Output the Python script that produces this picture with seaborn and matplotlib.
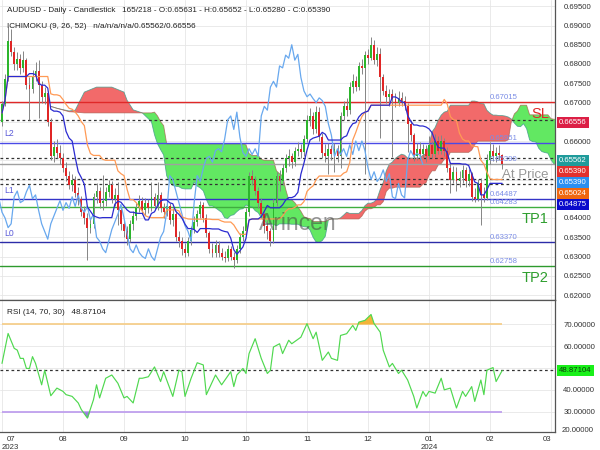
import numpy as np
import pandas as pd
import matplotlib
matplotlib.use("Agg")
import matplotlib.pyplot as plt
import matplotlib.transforms as mtrans
import seaborn as sns

# ---------------- data ----------------
first_open = 0.6650
closes = [0.6695, 0.6760, 0.6860, 0.6830, 0.6800, 0.6812, 0.6790, 0.6810, 0.6745, 0.6735,
          0.6770, 0.6782, 0.6745, 0.6715, 0.6725, 0.6650, 0.6560, 0.6585, 0.6570, 0.6555,
          0.6530, 0.6510, 0.6485, 0.6500, 0.6465, 0.6450, 0.6415, 0.6400, 0.6375, 0.6385,
          0.6455, 0.6470, 0.6440, 0.6445, 0.6468, 0.6485, 0.6450, 0.6460, 0.6420, 0.6385,
          0.6365, 0.6345, 0.6385, 0.6405, 0.6425, 0.6445, 0.6420, 0.6440, 0.6425, 0.6455,
          0.6430, 0.6460, 0.6425, 0.6415, 0.6430, 0.6395, 0.6410, 0.6350, 0.6340, 0.6320,
          0.6310, 0.6340, 0.6370, 0.6390, 0.6410, 0.6435, 0.6400, 0.6360, 0.6320, 0.6310,
          0.6330, 0.6310, 0.6300, 0.6295, 0.6320, 0.6300, 0.6290, 0.6320, 0.6350, 0.6365,
          0.6415, 0.6510, 0.6500, 0.6470, 0.6440, 0.6410, 0.6380, 0.6365, 0.6340, 0.6440,
          0.6510, 0.6495, 0.6530, 0.6555, 0.6560, 0.6545, 0.6575, 0.6580, 0.6572, 0.6605,
          0.6655, 0.6665, 0.6630, 0.6675, 0.6610, 0.6570, 0.6560, 0.6580, 0.6565, 0.6580,
          0.6560, 0.6665, 0.6690, 0.6680, 0.6740, 0.6755, 0.6740, 0.6795, 0.6790, 0.6823,
          0.6815, 0.6850, 0.6810, 0.6825, 0.6765, 0.6730, 0.6715, 0.6722, 0.6710, 0.6700,
          0.6712, 0.6705, 0.6690, 0.6645, 0.6615, 0.6560, 0.6580, 0.6565, 0.6580, 0.6560,
          0.6590, 0.6565, 0.6600, 0.6575, 0.6600, 0.6575, 0.6530, 0.6500, 0.6520, 0.6495,
          0.6505, 0.6525, 0.6495, 0.6515, 0.6455, 0.6450, 0.6490, 0.6460, 0.6452, 0.6550,
          0.6575, 0.6560, 0.6568, 0.65631, 0.65390]
highs = [0.6705, 0.6775, 0.6895, 0.6890, 0.6845, 0.6830, 0.6825, 0.6835, 0.6815, 0.6765,
         0.6785, 0.6805, 0.6810, 0.6755, 0.6740, 0.6730, 0.6660, 0.6600, 0.6605, 0.6590,
         0.6568, 0.6545, 0.6522, 0.6515, 0.6510, 0.6480, 0.6458, 0.6430, 0.6412, 0.6400,
         0.6465, 0.6490, 0.6480, 0.6512, 0.6480, 0.6500, 0.6495, 0.6478, 0.6494, 0.6428,
         0.6395, 0.6380, 0.6395, 0.6418, 0.6440, 0.6460, 0.6455, 0.6452, 0.6450, 0.6494,
         0.6465, 0.6494, 0.6468, 0.6440, 0.6445, 0.6440, 0.6425, 0.6418, 0.6365, 0.6350,
         0.6335, 0.6350, 0.6380, 0.6405, 0.6420, 0.6445, 0.6442, 0.6410, 0.6365, 0.6335,
         0.6342, 0.6340, 0.6322, 0.6315, 0.6330, 0.6328, 0.6312, 0.6330, 0.6360, 0.6380,
         0.6425, 0.6520, 0.6525, 0.6510, 0.6480, 0.6452, 0.6420, 0.6395, 0.6375, 0.6450,
         0.6520, 0.6525, 0.6540, 0.6565, 0.6578, 0.6570, 0.6585, 0.6598, 0.6592, 0.6615,
         0.6668, 0.6685, 0.6675, 0.6690, 0.6688, 0.6620, 0.6592, 0.6595, 0.6590, 0.6595,
         0.6590, 0.6675, 0.6705, 0.6712, 0.6752, 0.6775, 0.6768, 0.6805, 0.6812, 0.6835,
         0.6840, 0.6871, 0.6862, 0.6845, 0.6842, 0.6775, 0.6745, 0.6735, 0.6735, 0.6725,
         0.6730, 0.6728, 0.6718, 0.6698, 0.6655, 0.6622, 0.6595, 0.6598, 0.6592, 0.6590,
         0.6612, 0.6600, 0.6618, 0.6612, 0.6615, 0.6608, 0.6585, 0.6545, 0.6535, 0.6532,
         0.6522, 0.6538, 0.6532, 0.6528, 0.6520, 0.6478, 0.6502, 0.6505, 0.6480, 0.6565,
         0.6598, 0.6592, 0.6585, 0.6590, 0.65652]
lows = [0.6640, 0.6690, 0.6755, 0.6820, 0.6785, 0.6785, 0.6775, 0.6780, 0.6735, 0.6655,
        0.6725, 0.6755, 0.6660, 0.6700, 0.6695, 0.6640, 0.6550, 0.6545, 0.6555, 0.6540,
        0.6520, 0.6495, 0.6475, 0.6470, 0.6455, 0.6435, 0.6405, 0.6385, 0.6290, 0.6360,
        0.6375, 0.6440, 0.6425, 0.6420, 0.6430, 0.6455, 0.6440, 0.6430, 0.6382, 0.6370,
        0.6350, 0.6330, 0.6338, 0.6370, 0.6395, 0.6415, 0.6410, 0.6408, 0.6412, 0.6418,
        0.6420, 0.6422, 0.6415, 0.6400, 0.6405, 0.6385, 0.6380, 0.6340, 0.6325, 0.6305,
        0.6300, 0.6302, 0.6330, 0.6360, 0.6380, 0.6400, 0.6390, 0.6350, 0.6310, 0.6298,
        0.6300, 0.6300, 0.6290, 0.6285, 0.6288, 0.6290, 0.6270, 0.6282, 0.6310, 0.6340,
        0.6355, 0.6405, 0.6485, 0.6460, 0.6425, 0.6400, 0.6360, 0.6345, 0.6328, 0.6335,
        0.6430, 0.6470, 0.6485, 0.6520, 0.6535, 0.6530, 0.6535, 0.6560, 0.6555, 0.6562,
        0.6598, 0.6640, 0.6618, 0.6620, 0.6600, 0.6555, 0.6545, 0.6515, 0.6550, 0.6520,
        0.6545, 0.6530, 0.6655, 0.6665, 0.6670, 0.6725, 0.6730, 0.6732, 0.6775, 0.6515,
        0.6800, 0.6810, 0.6800, 0.6795, 0.6607, 0.6720, 0.6700, 0.6690, 0.6558, 0.6688,
        0.6690, 0.6690, 0.6680, 0.6571, 0.6600, 0.6548, 0.6550, 0.6550, 0.6555, 0.6545,
        0.6552, 0.6555, 0.6558, 0.6565, 0.6565, 0.6562, 0.6520, 0.6465, 0.6490, 0.6470,
        0.6480, 0.6490, 0.6480, 0.6482, 0.6445, 0.6442, 0.6445, 0.6382, 0.6442, 0.6448,
        0.6540, 0.6548, 0.6545, 0.6550, 0.65280]

# cloud values at the start of the chart (their look-back lies before the first bar)
early_cloud_bars = [16, 18, 22, 24, 27, 31, 36, 40, 41, 43, 46, 49]
early_span_a = [0.6690, 0.6685, 0.6678, 0.6680, 0.6727, 0.6740, 0.6740, 0.6727, 0.6706, 0.6681, 0.6673, 0.6650]
early_span_b = [0.6690, 0.6685, 0.6676, 0.6675, 0.6673, 0.6673, 0.6673, 0.6673, 0.6673, 0.6673, 0.6673, 0.6673]

rsi_bars = [0, 2, 4, 5, 6, 7, 8, 9, 10, 11, 13, 14, 16, 18, 20, 21, 23, 25, 26, 28,
            30, 31, 32, 34, 36, 38, 40, 41, 43, 45, 46, 48, 50, 52, 53, 54, 56, 58, 59, 60,
            62, 64, 66, 67, 70, 72, 75, 76, 77, 79, 80, 81, 83, 85, 87, 88, 89, 91, 92, 94,
            95, 98, 100, 102, 103, 105, 107, 108, 110, 111, 113, 115, 116, 117, 119, 121, 122, 124, 125, 127,
            128, 130, 131, 133, 135, 136, 138, 139, 140, 142, 144, 145, 147, 149, 151, 152, 154, 155, 157, 158,
            159, 161, 162, 164]
rsi_vals = [52.1, 65.8, 59.0, 58.2, 54.4, 54.4, 49.8, 49.8, 55.2, 52.1, 42.3, 49.0, 37.3, 40.8, 39.3, 37.8, 37.0, 34.0, 31.0, 27.1,
            35.5, 42.3, 36.3, 45.3, 46.8, 43.0, 36.3, 37.0, 34.0, 45.3, 45.3, 46.0, 50.5, 43.8, 48.3, 44.5, 37.0, 49.0, 48.3, 37.0,
            45.3, 52.4, 51.4, 37.8, 46.8, 42.3, 48.3, 41.5, 46.8, 49.8, 47.5, 56.6, 63.4, 54.4, 47.5, 49.0, 59.6, 61.1, 56.6, 62.7,
            61.1, 64.1, 70.3, 63.4, 66.4, 53.5, 57.3, 54.4, 53.5, 64.9, 65.7, 69.5, 67.2, 71.0, 71.8, 74.5, 70.3, 66.4, 58.1, 50.5,
            52.1, 47.5, 49.0, 44.5, 37.0, 31.7, 39.3, 37.0, 39.3, 38.5, 45.3, 40.0, 40.8, 31.7, 39.3, 37.0, 41.5, 34.7, 44.5, 37.8,
            49.0, 50.2, 43.8, 48.87104]
rsi_last = 48.87104

level_values = [0.67015, 0.65951, 0.65390, 0.64487, 0.64283, 0.63370, 0.62758]
level_colors = ["#e02828", "#4a4ae6", "#a0a0a0", "#3434c8", "#3fae3f", "#2c2ca8", "#2e9a2e"]
level_tags = ["SL", "L2", "At Price", "L1", "TP1", "L0", "TP2"]
dashed_values = [0.66556, 0.65562, 0.65024, 0.64875]
axis_box_values = [0.66556, 0.65562, 0.65390, 0.65390, 0.65024, 0.64875]
axis_box_colors = ["#dc1f45", "#1f9b9b", "#e2302e", "#2b8ff0", "#f0670f", "#0a0acc"]

price_ticks = [0.620, 0.625, 0.630, 0.635, 0.640, 0.645, 0.650, 0.655, 0.660, 0.665,
               0.670, 0.675, 0.680, 0.685, 0.690, 0.695]
rsi_ticks = [20, 30, 40, 50, 60, 70]

month_tick_bars = [0, 20, 40, 60, 80, 100, 120, 140, 160, 180]
month_labels = ["07\n2023", "08", "09", "10", "10", "11", "12", "01\n2024", "02", "03"]

header1 = "AUDUSD - Daily - Candlestick   165/218 - O:0.65631 - H:0.65652 - L:0.65280 - C:0.65390"
header2 = "ICHIMOKU (9, 26, 52)   n/a/n/a/n/a/0.65562/0.66556"
header3 = "RSI (14, 70, 30)   48.87104"

# ---------------- style ----------------
sns.set_theme(style="whitegrid")
plt.rcParams["font.family"] = ["Liberation Sans", "DejaVu Sans"]
FS = 5.6
GRID = "#e6e6e6"
TXT = "#333333"
PX_PER_PRICE = 3850.0

fig = plt.figure(figsize=(6, 4.5), dpi=100)
W, H = 600.0, 450.0
AX_R = 555.0
ax = fig.add_axes([0, 1 - 300 / H, AX_R / W, 300 / H])
ax2 = fig.add_axes([0, 1 - 432 / H, AX_R / W, 132 / H], sharex=ax)

n = len(closes)
bars = np.arange(n)
opens = np.array([first_open] + closes[:-1])
c = np.array(closes)
hi = np.array(highs)
lo = np.array(lows)

# ---------------- ichimoku ----------------
df = pd.DataFrame({"high": hi, "low": lo, "close": c})
def mid(w):
    return (df["high"].rolling(w, min_periods=1).max() + df["low"].rolling(w, min_periods=1).min()) / 2
tenkan = mid(9).to_numpy()
kijun = mid(26).to_numpy()
span_a = (tenkan + kijun) / 2
span_b = mid(52).to_numpy()
cx = bars + 26
keep = cx >= 50
cloud_x = np.concatenate([np.array(early_cloud_bars, float), cx[keep]])
cloud_a = np.concatenate([np.array(early_span_a), span_a[keep]])
cloud_b = np.concatenate([np.array(early_span_b), span_b[keep]])

ax.fill_between(cloud_x, cloud_a, cloud_b, where=cloud_a >= cloud_b, interpolate=True,
                color="#f26a6a", lw=0, zorder=1)
ax.fill_between(cloud_x, cloud_a, cloud_b, where=cloud_b >= cloud_a, interpolate=True,
                color="#62e862", lw=0, zorder=1)
ax.plot(cloud_x, cloud_a, color="#3f9c8c", lw=0.6, alpha=0.8, zorder=1.2)
ax.plot(cloud_x, cloud_b, color="#a8584a", lw=0.6, alpha=0.7, zorder=1.2)

# ---------------- horizontal levels ----------------
for v, col in zip(level_values, level_colors):
    ax.axhline(v, color=col, lw=1.0, zorder=1.5)
for v in dashed_values:
    ax.axhline(v, color="#333333", lw=0.9, ls=(0, (2.2, 2.2)), zorder=1.6)

# ---------------- candles ----------------
up = c >= opens
body_lo = np.minimum(opens, c)
body_h = np.maximum(np.abs(c - opens), 0.00008)
ax.vlines(bars, lo, hi, color="#858585", lw=0.7, zorder=3)
ax.bar(bars[up], body_h[up], bottom=body_lo[up], width=0.62, color="#2cb52c", lw=0, zorder=4)
ax.bar(bars[~up], body_h[~up], bottom=body_lo[~up], width=0.62, color="#e02626", lw=0, zorder=4)

# ---------------- ichimoku lines ----------------
lines_df = pd.DataFrame({"bar": bars, "tenkan": tenkan, "kijun": kijun})
chikou_df = pd.DataFrame({"bar": bars - 26, "chikou": c})
sns.lineplot(data=chikou_df, x="bar", y="chikou", ax=ax, color="#68a8ee", lw=0.9, zorder=5, estimator=None)
sns.lineplot(data=lines_df, x="bar", y="kijun", ax=ax, color="#ff9a55", lw=0.9, zorder=5, estimator=None)
sns.lineplot(data=lines_df, x="bar", y="tenkan", ax=ax, color="#2a2ad0", lw=0.9, zorder=5, estimator=None)

# ---------------- right-side value boxes (positions pushed apart) ----------------
gap = 11 / PX_PER_PRICE
box_pos = []
prev = None
for v in axis_box_values:
    pos = v - 0.0007 if prev is None else min(v - 0.0007, prev - gap)
    box_pos.append(pos)
    prev = pos

# ---------------- axes styling ----------------
x0 = -2.0 / 3.05
x1 = x0 + AX_R / 3.05
ax.set_xlim(x0, x1)
ax.set_ylim(0.62 - 5 / PX_PER_PRICE, 0.62 + 295 / PX_PER_PRICE)
ax.set_xlabel("")
ax.set_ylabel("")
ax.yaxis.tick_right()
ax.set_yticks(price_ticks)
# tick labels hidden behind the opaque value boxes are left blank, as in the reference
ptl = []
for t in price_ticks:
    covered = any(abs(t - p) * PX_PER_PRICE < 8 for p in box_pos)
    ptl.append("" if covered else f"{t:.5f}")
ax.set_yticklabels(ptl)
ax.tick_params(axis="y", length=0, pad=6, labelsize=FS, labelcolor=TXT)
ax.tick_params(axis="x", length=0, labelbottom=False)
ax.grid(True, color=GRID, lw=0.6)
for s in ["left", "top"]:
    ax.spines[s].set_visible(False)
for s in ["right", "bottom"]:
    ax.spines[s].set_visible(True)
    ax.spines[s].set_color("#555555")
    ax.spines[s].set_linewidth(0.9)

tr = mtrans.blended_transform_factory(ax.transAxes, ax.transData)
for pos, v, col in zip(box_pos, axis_box_values, axis_box_colors):
    ax.text(1.0 + 4 / AX_R, pos, f"{v:.5f}", transform=tr, color="white", fontsize=FS,
            ha="left", va="center", zorder=10,
            bbox=dict(boxstyle="square,pad=0.28", fc=col, ec="none"))

# level annotations
for v, col, tag in zip(level_values, level_colors, level_tags):
    ax.text(490 / AX_R, v + 0.0003, f"{v:.5f}", transform=tr, color="#7a8ce6",
            fontsize=FS, ha="left", va="bottom", zorder=6)
    if tag.startswith("L"):
        ax.text(4 / AX_R, v + 0.0012, tag, transform=tr, color="#5a5ad8",
                fontsize=6.2, ha="left", va="bottom", zorder=6)
    elif tag == "At Price":
        ax.text(549 / AX_R, v - 0.0013, tag, transform=tr, color="#8c8c8c",
                fontsize=9.5, ha="right", va="top", zorder=6, alpha=0.9)
    elif tag == "SL":
        ax.text(549 / AX_R, v - 0.0012, tag, transform=tr, color="#e02828",
                fontsize=10.5, ha="right", va="top", zorder=6)
    else:
        ax.text(549 / AX_R, v - 0.0014, tag, transform=tr, color="#2e9e2e",
                fontsize=10.5, ha="right", va="top", zorder=6)

# watermark
ax.text(298 / AX_R, 0.62 + 71 / PX_PER_PRICE, "Arincen", transform=tr, fontsize=16.5,
        color="#444444", alpha=0.55, ha="center", va="center", zorder=6)

# ---------------- RSI panel ----------------
rsi_df = pd.DataFrame({"bar": rsi_bars, "rsi": rsi_vals})
rb = np.array(rsi_bars, float)
rv = np.array(rsi_vals)
ax2.hlines(70, 0, n - 1, color="#f6cf8c", lw=1.3, zorder=2)
ax2.hlines(30, 0, n - 1, color="#bfa0ee", lw=1.3, zorder=2)
ax2.fill_between(rb, rv, 70, where=rv >= 70, interpolate=True, color="#f3b43a", lw=0, zorder=2.5)
ax2.fill_between(rb, rv, 30, where=rv <= 30, interpolate=True, color="#9a7ee0", lw=0, zorder=2.5)
ax2.axhline(rsi_last, color="#333333", lw=0.9, ls=(0, (2.2, 2.2)), zorder=2)
sns.lineplot(data=rsi_df, x="bar", y="rsi", ax=ax2, color="#4fd84f", lw=0.85, zorder=3, estimator=None)

RSI_PX = 2.185
ax2.set_ylim(30 - 20.3 / RSI_PX, 70 + 24.3 / RSI_PX)
ax2.set_xlabel("")
ax2.set_ylabel("")
ax2.yaxis.tick_right()
vis_rsi_ticks = [t for t in rsi_ticks if ax2.get_ylim()[0] <= t]
ax2.set_yticks(vis_rsi_ticks)
ax2.set_yticklabels(["" if abs(t - rsi_last) * RSI_PX < 8 else f"{t:.5f}" for t in vis_rsi_ticks])
ax2.tick_params(axis="y", length=0, pad=6, labelsize=FS, labelcolor=TXT)
tr2 = mtrans.blended_transform_factory(ax2.transAxes, ax2.transData)
# the lowest tick label sits clamped just inside the panel
ax2.text(1.0 + 7 / AX_R, 20, f"{rsi_ticks[0]:.5f}", transform=tr2, fontsize=FS, color=TXT,
         ha="left", va="bottom")
ax2.text(1.0 + 4 / AX_R, rsi_last, f"{rsi_last:.5f}", transform=tr2, color="#0b3d0b",
         fontsize=FS, ha="left", va="center", zorder=10,
         bbox=dict(boxstyle="square,pad=0.28", fc="#19f019", ec="none"))
ax2.set_xticks(month_tick_bars)
ax2.set_xticklabels(month_labels)
ax2.tick_params(axis="x", length=0, pad=3, labelsize=FS, labelcolor=TXT)
labs = ax2.get_xticklabels()
labs[0].set_ha("left")
labs[-1].set_ha("right")
for lab in labs:
    lab.set_multialignment("center")
ax2.grid(True, color=GRID, lw=0.6)
ax2.spines["left"].set_visible(False)
for s in ["right", "bottom", "top"]:
    ax2.spines[s].set_visible(True)
    ax2.spines[s].set_color("#555555")
    ax2.spines[s].set_linewidth(0.9)

# ---------------- headers ----------------
fig.text(7 / W, 1 - 10 / H, header1, fontsize=5.9, color="#222222", ha="left", va="center")
fig.text(7 / W, 1 - 26 / H, header2, fontsize=5.9, color="#222222", ha="left", va="center")
fig.text(7 / W, 1 - 312 / H, header3, fontsize=5.9, color="#222222", ha="left", va="center")

fig.savefig("out.png", dpi=100)
